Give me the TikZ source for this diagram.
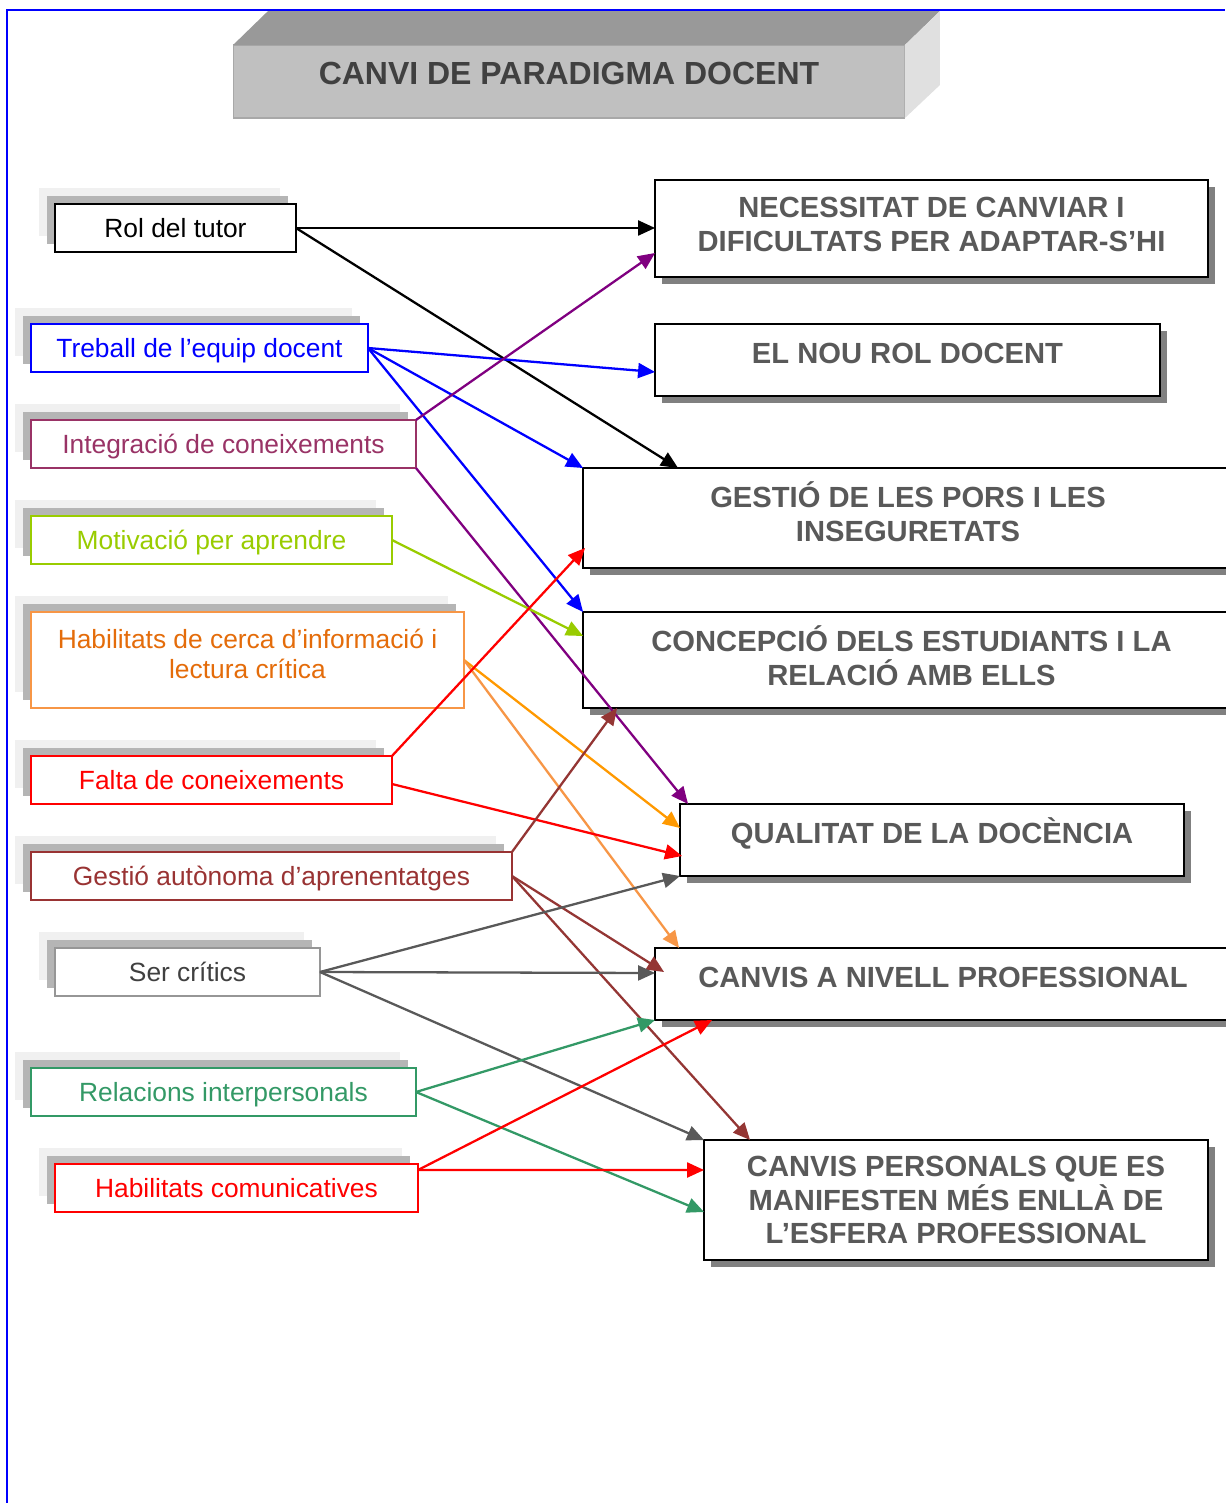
\documentclass[tikz,border=0pt]{standalone}
\usepackage{fontspec}
\setmainfont{Liberation Sans}
\usetikzlibrary{arrows.meta,calc,shadows}

\definecolor{frameblue}{HTML}{0000FF}
\definecolor{titlefront}{HTML}{C0C0C0}
\definecolor{titletop}{HTML}{999999}
\definecolor{titleside}{HTML}{E0E0E0}
\definecolor{titleedge}{HTML}{A8A8A8}
\definecolor{titletext}{HTML}{404040}
\definecolor{rtext}{HTML}{595959}
\definecolor{rshadow}{HTML}{808080}
\definecolor{shlight}{HTML}{F0F0F0}
\definecolor{shdark}{HTML}{B5B5B5}
\definecolor{cblue}{HTML}{0000FF}
\definecolor{cplum}{HTML}{993366}
\definecolor{cpurple}{HTML}{800080}
\definecolor{clime}{HTML}{99CC00}
\definecolor{corangetext}{HTML}{E46C0A}
\definecolor{corangeline}{HTML}{F79646}
\definecolor{corange}{HTML}{FF9900}
\definecolor{cred}{HTML}{FF0000}
\definecolor{cbrown}{HTML}{993333}
\definecolor{cbrownline}{HTML}{943634}
\definecolor{cgrayborder}{HTML}{969696}
\definecolor{cgraytext}{HTML}{404040}
\definecolor{cgrayline}{HTML}{595959}
\definecolor{cgreen}{HTML}{339966}

\begin{document}
\begin{tikzpicture}[x=0.02cm,y=-0.02cm,
  every node/.style={inner sep=0pt,outer sep=0pt},
  lbox/.style={draw=#1, text=#1, fill=white, line width=1.1pt, align=center,
    font=\fontsize{15}{17}\selectfont, text height=10.7pt, text depth=0pt,
    general shadow={fill=shlight, shadow xshift=-0.32cm, shadow yshift=0.32cm},
    general shadow={fill=shdark, shadow xshift=-0.16cm, shadow yshift=0.16cm}},
  rbox/.style={draw=black, fill=white, line width=1.3pt, text=rtext, align=center,
    font=\fontsize{16.6}{19.3}\selectfont\bfseries,
    general shadow={fill=rshadow, shadow xshift=0.14cm, shadow yshift=-0.14cm}},
  conn/.style={draw=#1, line width=1.3pt, -{Triangle[length=0.34cm,width=0.30cm]}}]

\useasboundingbox (0,0) rectangle (1225,1503);
\fill[white] (0,0) rectangle (1225,1503);

% page frame
\draw[frameblue, line width=1.1pt] (7,1503) -- (7,10) -- (1225,10);

% title block drawn as a bar with a top and a side face
\node[fill=titlefront, draw=titleedge, line width=0.6pt, text=titletext,
      minimum width=13.44cm, minimum height=1.46cm,
      font=\fontsize{18.2}{20}\selectfont\bfseries,
      text height=13pt, text depth=9.6pt] (title) at (569,81.5)
      {CANVI DE PARADIGMA DOCENT};
\fill[titletop] (title.north west) -- ++(35,-34) -- ($(title.north east)+(35,-34)$)
      -- (title.north east) -- cycle;
\fill[titleside] (title.north east) -- ++(35,-34) -- ($(title.south east)+(35,-33)$)
      -- (title.south east) -- cycle;

% factors on the left
\node[lbox=black, minimum width=4.82cm, minimum height=0.96cm] (rol) at (175.5,228) {Rol del tutor};
\node[lbox=cblue, minimum width=6.74cm, minimum height=0.96cm] (treb) at (199.5,348) {Treball de l’equip docent};
\node[lbox=cplum, minimum width=7.70cm, minimum height=0.96cm] (integ) at (223.5,444) {Integració de coneixements};
\node[lbox=clime, minimum width=7.22cm, minimum height=0.96cm] (motiv) at (211.5,540) {Motivació per aprendre};
\node[lbox=corangeline, text=corangetext, minimum width=8.66cm, minimum height=1.92cm,
      text height=, text depth=6.8pt] (habc) at (247.5,660) {Habilitats de cerca d’informació i\\lectura crítica};
\node[lbox=cred, minimum width=7.22cm, minimum height=0.96cm] (falta) at (211.5,780) {Falta de coneixements};
\node[lbox=cbrown, minimum width=9.62cm, minimum height=0.96cm] (gest) at (271.5,876) {Gestió autònoma d’aprenentatges};
\node[lbox=cgrayborder, text=cgraytext, minimum width=5.30cm, minimum height=0.96cm] (ser) at (187.5,972) {Ser crítics};
\node[lbox=cgreen, minimum width=7.70cm, minimum height=0.96cm] (rel) at (223.5,1092) {Relacions interpersonals};
\node[lbox=cred, minimum width=7.26cm, minimum height=0.96cm] (habcom) at (236.5,1188) {Habilitats comunicatives};

% changes on the right
\node[rbox, minimum width=11.06cm, minimum height=1.94cm, text depth=5pt] (nec) at (931.5,228.5)
      {NECESSITAT DE CANVIAR I\\DIFICULTATS PER ADAPTAR-S’HI};
\node[rbox, minimum width=10.10cm, minimum height=1.44cm, text height=11.9pt, text depth=8pt] (nou) at (907.5,360)
      {EL NOU ROL DOCENT};
\node[rbox, minimum width=13.00cm, minimum height=2.00cm, text depth=7pt] (gpor) at (908,518)
      {GESTIÓ DE LES PORS I LES\\INSEGURETATS};
\node[rbox, minimum width=13.14cm, minimum height=1.92cm, text depth=5pt] (conc) at (911.5,660)
      {CONCEPCIÓ DELS ESTUDIANTS I LA\\RELACIÓ AMB ELLS};
\node[rbox, minimum width=10.08cm, minimum height=1.44cm, text height=11.9pt, text depth=8pt] (qual) at (932,840)
      {QUALITAT DE LA DOCÈNCIA};
\node[rbox, minimum width=11.52cm, minimum height=1.44cm, text height=11.9pt, text depth=8pt] (cniv) at (943,984)
      {CANVIS A NIVELL PROFESSIONAL};
\node[rbox, minimum width=10.08cm, minimum height=2.40cm] (cpers) at (956,1200)
      {CANVIS PERSONALS QUE ES\\MANIFESTEN MÉS ENLLÀ DE\\L’ESFERA PROFESSIONAL};

% connectors
\draw[conn=black] (rol.east) -- ($(nec.west)+(0,-0.5)$);
\draw[conn=black] (rol.east) -- ($(gpor.north west)+(95,0)$);

\draw[conn=cblue] (treb.east) -- ($(nou.west)+(0,12)$);
\draw[conn=cblue] (treb.east) -- (gpor.north west);
\draw[conn=cblue] (treb.east) -- (conc.north west);

\draw[conn=cpurple] (integ.north east) -- ($(nec.south west)+(0,-24)$);
\draw[conn=cpurple] (integ.south east) -- ($(qual.north west)+(8,0)$);

\draw[conn=clime] (motiv.east) -- ($(conc.north west)+(0,24)$);

\draw[conn=corange] (habc.east) -- ($(qual.west)+(0,-12)$);
\draw[conn=corangeline] (habc.east) -- ($(cniv.north west)+(24,0)$);

\draw[conn=cred] (falta.north east) -- ($(gpor.south west)+(2,-20)$);
\draw[conn=cred] ($(falta.east)+(0,4)$) -- ($(qual.west)+(2,16)$);

\draw[conn=cbrownline] (gest.north east) -- ($(conc.south west)+(34,0)$);
\draw[conn=cbrownline] (gest.east) -- ($(cniv.north west)+(9,24)$);
\draw[conn=cbrownline] (gest.east) -- ($(cpers.north west)+(46,0)$);

\draw[conn=cgrayline] (ser.east) -- (qual.south west);
\draw[conn=cgrayline] (ser.east) -- ($(cniv.west)+(0,-11)$);
\draw[conn=cgrayline] (ser.east) -- (cpers.north west);

\draw[conn=cgreen] (rel.east) -- (cniv.south west);
\draw[conn=cgreen] (rel.east) -- ($(cpers.south west)+(0,-48)$);

\draw[conn=cred] ($(habcom.north east)+(0,6)$) -- ($(cniv.south west)+(57,0)$);
\draw[conn=cred] ($(habcom.north east)+(0,6)$) -- ($(cpers.west)+(0,-30)$);

\end{tikzpicture}
\end{document}
